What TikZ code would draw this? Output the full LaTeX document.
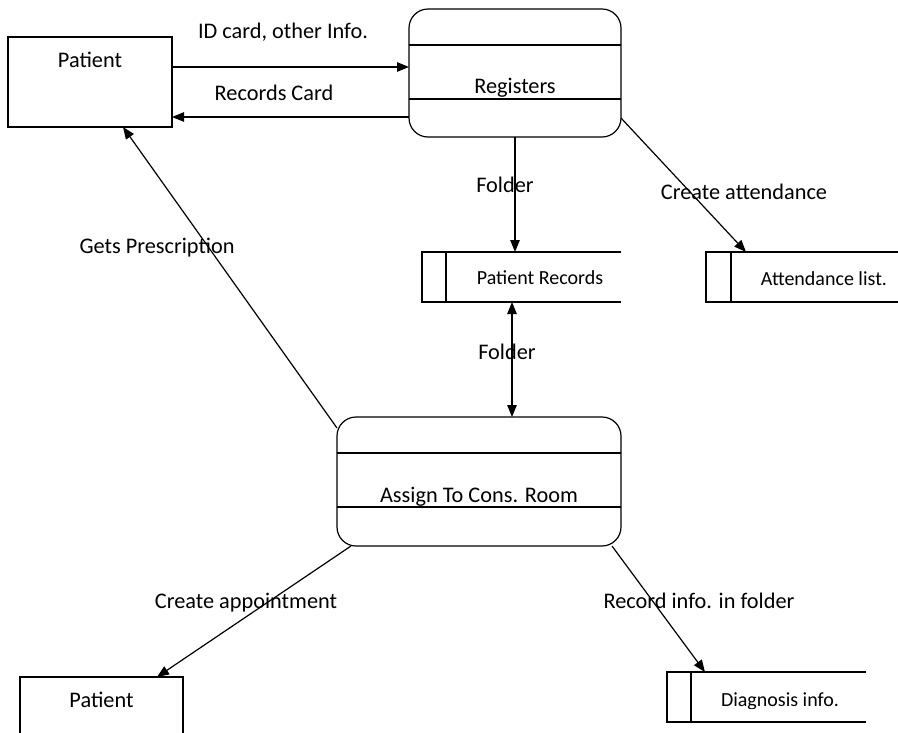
\documentclass[tikz,border=0pt]{standalone}
\usepackage{fontspec}
\setmainfont{Carlito}
\usetikzlibrary{arrows.meta}

\tikzset{
  ln/.style={line width=1.2pt, line cap=butt},
  entity/.style={draw, ln, rectangle, inner sep=0pt, outer sep=0pt},
  process/.style={draw, ln, rectangle, rounded corners=19pt, inner sep=0pt, outer sep=0pt},
  storearea/.style={rectangle, inner sep=0pt, outer sep=0pt},
  flow/.style={ln, -{Triangle[length=12pt,width=9.5pt]}},
  twoflow/.style={ln, {Triangle[length=12pt,width=9.5pt]}-{Triangle[length=12pt,width=9.5pt]}},
  lbl/.style={font=\fontsize{22.3pt}{25pt}\selectfont, anchor=base, inner sep=0pt},
  slbl/.style={font=\fontsize{20pt}{23pt}\selectfont, anchor=base, inner sep=0pt},
}

% draws a data store open on its right side, with the inner divider
\newcommand{\storeoutline}[2]{%
  \draw[ln] (#1.north east) -- (#1.north west) -- (#1.south west) -- (#1.south east);
  \draw[ln] ([xshift=#2]#1.north west) -- ([xshift=#2]#1.south west);
}

\begin{document}
\begin{tikzpicture}[x=1pt,y=-1pt]
\clip (0,0) rectangle (898,732);
\fill[white] (0,0) rectangle (898,732);

% external entities
\node[entity, minimum width=164pt, minimum height=90pt] (pat) at (90,82) {};
\node[lbl] (pattxt) at (90,67) {Patient};
\node[entity, minimum width=163pt, minimum height=80pt] (pat2) at (101.5,717) {};
\node[lbl] (pat2txt) at (101.5,707) {Patient};

% processes
\node[process, minimum width=212pt, minimum height=128pt] (reg) at (515,73) {};
\draw[ln] (409,45) -- (621,45);
\draw[ln] (409,99) -- (621,99);
\node[lbl] (regtxt) at (515,93) {Registers};

\node[process, minimum width=284pt, minimum height=129pt] (asg) at (479,481.5) {};
\draw[ln] (337,453) -- (621,453);
\draw[ln] (337,507) -- (621,507);
\node[lbl] (asgtxt) at (479,502) {Assign To Cons. Room};

% data stores
\node[storearea, minimum width=199pt, minimum height=50pt] (prec) at (521.5,277) {};
\storeoutline{prec}{24pt}
\node[slbl] (prectxt) at (540,284) {Patient Records};

\node[storearea, minimum width=194pt, minimum height=50pt] (att) at (803,277) {};
\storeoutline{att}{25pt}
\node[slbl] (atttxt) at (824,285) {Attendance list.};

\node[storearea, minimum width=199pt, minimum height=50pt] (diag) at (766.5,697) {};
\storeoutline{diag}{24pt}
\begin{scope}
  \clip (690,680) rectangle (860,708);
  \node[slbl] (diagtxt) at (780,706) {Diagnosis info.};
\end{scope}

% data flows
\draw[flow] ([yshift=15pt]pat.east) -- ([yshift=6pt]reg.west);
\draw[flow] ([yshift=-44pt]reg.west) -- ([yshift=-35pt]pat.east);
\draw[flow] (reg.south) -- ([xshift=-6.5pt]prec.north);
\draw[flow] ([yshift=-45pt]reg.east) -- ([xshift=-57pt]att.north);
\draw[twoflow] ([xshift=-9.5pt]prec.south) -- ([xshift=33pt]asg.north);
\draw[flow] ([yshift=53.5pt]asg.west) -- ([xshift=33pt]pat.south);
\draw[flow] ([xshift=-128pt]asg.south) -- ([xshift=55.5pt]pat2.north);
\draw[flow] ([xshift=133pt]asg.south) -- ([xshift=-61.5pt]diag.north);

% flow labels
\node[lbl] (l1) at (283,38) {ID card, other Info.};
\node[lbl] (l2) at (274,100) {Records Card};
\node[lbl] (l3) at (505,192) {Folder};
\node[lbl] (l4) at (744,199) {Create attendance};
\node[lbl] (l5) at (157,253) {Gets Prescription};
\node[lbl] (l6) at (507,359) {Folder};
\node[lbl] (l7) at (246,608) {Create appointment};
\node[lbl] (l8) at (699,608) {Record info. in folder};
\end{tikzpicture}
\end{document}
